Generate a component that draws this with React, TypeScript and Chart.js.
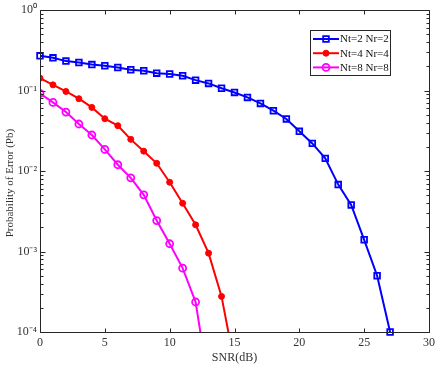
import React, { useEffect, useRef } from "react";
import { Chart, registerables } from "chart.js";

Chart.register(...registerables);

const snrDb = [0, 1, 2, 3, 4, 5, 6, 7, 8, 9, 10, 11, 12, 13, 14, 15, 16, 17, 18, 19, 20, 21, 22, 23, 24, 25, 26, 27];

const pbNt2 = [0.271, 0.256, 0.233, 0.224, 0.211, 0.204, 0.194, 0.182, 0.177, 0.165, 0.161, 0.153, 0.135, 0.123, 0.107, 0.095, 0.0824, 0.0694, 0.0563, 0.0445, 0.0312, 0.0221, 0.0144, 0.0068, 0.0038, 0.0014, 0.0005, 0.0001];
const pbNt4 = [0.143, 0.118, 0.0977, 0.0794, 0.0619, 0.0448, 0.0367, 0.0248, 0.0177, 0.0125, 0.00726, 0.00398, 0.00215, 0.000955, 0.000277, 0.00004];
const pbNt8 = [0.0923, 0.0714, 0.0542, 0.0385, 0.0281, 0.0186, 0.012, 0.00824, 0.00507, 0.00243, 0.00125, 0.000622, 0.000236, 0.000023];

const seriesNames = ["Nt=2 Nr=2", "Nt=4 Nr=4", "Nt=8 Nr=8"];
const xTicks = [0, 5, 10, 15, 20, 25, 30];
const yTicks = [1e-4, 1e-3, 1e-2, 1e-1, 1];
const yTickLabels = ["10⁻⁴", "10⁻³", "10⁻²", "10⁻¹", "10⁰"];
const xTitle = "SNR(dB)";
const yTitle = "Probability of Error (Pb)";

const AXIS = "#262626";
const FONT = "'Liberation Serif', 'Times New Roman', serif";

const toPoints = (vals: number[]) => vals.map((v, i) => ({ x: snrDb[i], y: v }));

const boxTicksPlugin = {
  id: "boxTicks",
  afterDraw(chart: any) {
    const { ctx, chartArea: a, scales } = chart;
    const xs = scales.x;
    const ys = scales.y;
    ctx.save();
    ctx.strokeStyle = AXIS;
    ctx.lineWidth = 1;
    ctx.beginPath();
    const L = Math.round(a.left) + 0.5;
    const R = Math.round(a.right) + 0.5;
    const T = Math.round(a.top) + 0.5;
    const B = Math.round(a.bottom) + 0.5;
    ctx.rect(L, T, R - L, B - T);
    xTicks.forEach((v) => {
      const px = Math.round(xs.getPixelForValue(v)) + 0.5;
      ctx.moveTo(px, B);
      ctx.lineTo(px, B - 4);
      ctx.moveTo(px, T);
      ctx.lineTo(px, T + 4);
    });
    for (let k = -4; k <= 0; k++) {
      for (let m = 1; m <= 9; m++) {
        const v = m * Math.pow(10, k);
        if (v > 1.0000001) continue;
        const py = Math.round(ys.getPixelForValue(v)) + 0.5;
        const len = m === 1 ? 5 : 3;
        ctx.moveTo(L, py);
        ctx.lineTo(L + len, py);
        ctx.moveTo(R, py);
        ctx.lineTo(R - len, py);
      }
    }
    ctx.stroke();

    // y-axis title (drawn slightly below the axis centre, as in the original)
    ctx.save();
    ctx.translate(10, (a.top + a.bottom) / 2 + 12);
    ctx.rotate(-Math.PI / 2);
    ctx.fillStyle = "#333";
    ctx.font = "11px " + FONT;
    ctx.textAlign = "center";
    ctx.textBaseline = "middle";
    ctx.fillText(yTitle, 0, 0);
    ctx.restore();

    ctx.restore();
  },
};

function drawMarker(ctx: CanvasRenderingContext2D, ds: any, x: number, y: number) {
  const r = ds.pointRadius;
  ctx.save();
  ctx.lineWidth = ds.pointBorderWidth;
  ctx.strokeStyle = ds.pointBorderColor;
  ctx.fillStyle = ds.pointBackgroundColor;
  ctx.beginPath();
  if (ds.pointStyle === "rect") {
    ctx.rect(x - r * 0.707, y - r * 0.707, r * 1.414, r * 1.414);
  } else {
    ctx.arc(x, y, r, 0, Math.PI * 2);
  }
  ctx.fill();
  ctx.stroke();
  ctx.restore();
}

const insideLegendPlugin = {
  id: "insideLegend",
  afterDraw(chart: any) {
    const { ctx } = chart;
    const left = 310.5;
    const top = 30.5;
    const w = 80;
    const h = 45;
    ctx.save();
    ctx.fillStyle = "#ffffff";
    ctx.strokeStyle = AXIS;
    ctx.lineWidth = 1;
    ctx.fillRect(left, top, w, h);
    ctx.strokeRect(left, top, w, h);
    ctx.font = "11px " + FONT;
    ctx.textBaseline = "middle";
    ctx.textAlign = "left";
    chart.data.datasets.forEach((ds: any, i: number) => {
      const y = 39 + i * 14.2;
      ctx.strokeStyle = ds.borderColor;
      ctx.lineWidth = ds.borderWidth;
      ctx.beginPath();
      ctx.moveTo(313, y);
      ctx.lineTo(339, y);
      ctx.stroke();
      drawMarker(ctx, ds, 326, y);
      ctx.fillStyle = "#111";
      ctx.fillText(ds.label, 340, y + 0.5);
    });
    ctx.restore();
  },
};

export default function App() {
  const ref = useRef<HTMLCanvasElement | null>(null);

  useEffect(() => {
    if (!ref.current) return;
    const chart = new Chart(ref.current, {
      type: "line",
      data: {
        datasets: [
          {
            label: seriesNames[0],
            data: toPoints(pbNt2),
            borderColor: "#0000ff",
            borderWidth: 2,
            pointStyle: "rect",
            pointRadius: 4,
            pointBorderWidth: 1.8,
            pointBorderColor: "#0000ff",
            pointBackgroundColor: "rgba(255,255,255,0)",
            clip: false as any,
          },
          {
            label: seriesNames[1],
            data: toPoints(pbNt4),
            borderColor: "#ff0000",
            borderWidth: 2,
            pointStyle: "circle",
            pointRadius: 3,
            pointBorderWidth: 1,
            pointBorderColor: "#ff0000",
            pointBackgroundColor: "#ff0000",
          },
          {
            label: seriesNames[2],
            data: toPoints(pbNt8),
            borderColor: "#ff00ff",
            borderWidth: 2,
            pointStyle: "circle",
            pointRadius: 3.5,
            pointBorderWidth: 1.8,
            pointBorderColor: "#ff00ff",
            pointBackgroundColor: "rgba(255,255,255,0)",
          },
        ],
      },
      options: {
        animation: false,
        responsive: false,
        layout: { padding: { top: 9, right: 10, left: 0, bottom: 0 } },
        plugins: {
          legend: { display: false },
          tooltip: { enabled: false },
        },
        scales: {
          x: {
            type: "linear",
            min: 0,
            max: 30,
            grid: { display: false, drawTicks: false },
            border: { display: false },
            afterFit: (s: any) => {
              s.height = 38;
            },
            afterBuildTicks: (s: any) => {
              s.ticks = xTicks.map((v) => ({ value: v }));
            },
            ticks: {
              color: "#333",
              font: { family: FONT, size: 12 },
              padding: 4,
              maxRotation: 0,
              autoSkip: false,
            },
            title: {
              display: true,
              text: xTitle,
              color: "#333",
              font: { family: FONT, size: 12 },
              padding: { top: 0, bottom: 5 },
            },
          },
          y: {
            type: "logarithmic",
            min: 1e-4,
            max: 1,
            grid: { display: false, drawTicks: false },
            border: { display: false },
            afterFit: (s: any) => {
              s.width = 40;
            },
            afterBuildTicks: (s: any) => {
              s.ticks = yTicks.map((v) => ({ value: v }));
            },
            ticks: {
              color: "#333",
              font: { family: FONT, size: 12 },
              padding: 3,
              autoSkip: false,
              callback: (v: any) => {
                const i = yTicks.findIndex((t) => Math.abs(t - Number(v)) / t < 1e-6);
                return i >= 0 ? yTickLabels[i] : "";
              },
            },
          },
        },
      },
      plugins: [boxTicksPlugin, insideLegendPlugin],
    });
    return () => chart.destroy();
  }, []);

  return (
    <div style={{ position: "absolute", left: 0, top: 0, width: 439, height: 370, background: "#fff" }}>
      <canvas ref={ref} width={439} height={370} style={{ display: "block" }} />
    </div>
  );
}
